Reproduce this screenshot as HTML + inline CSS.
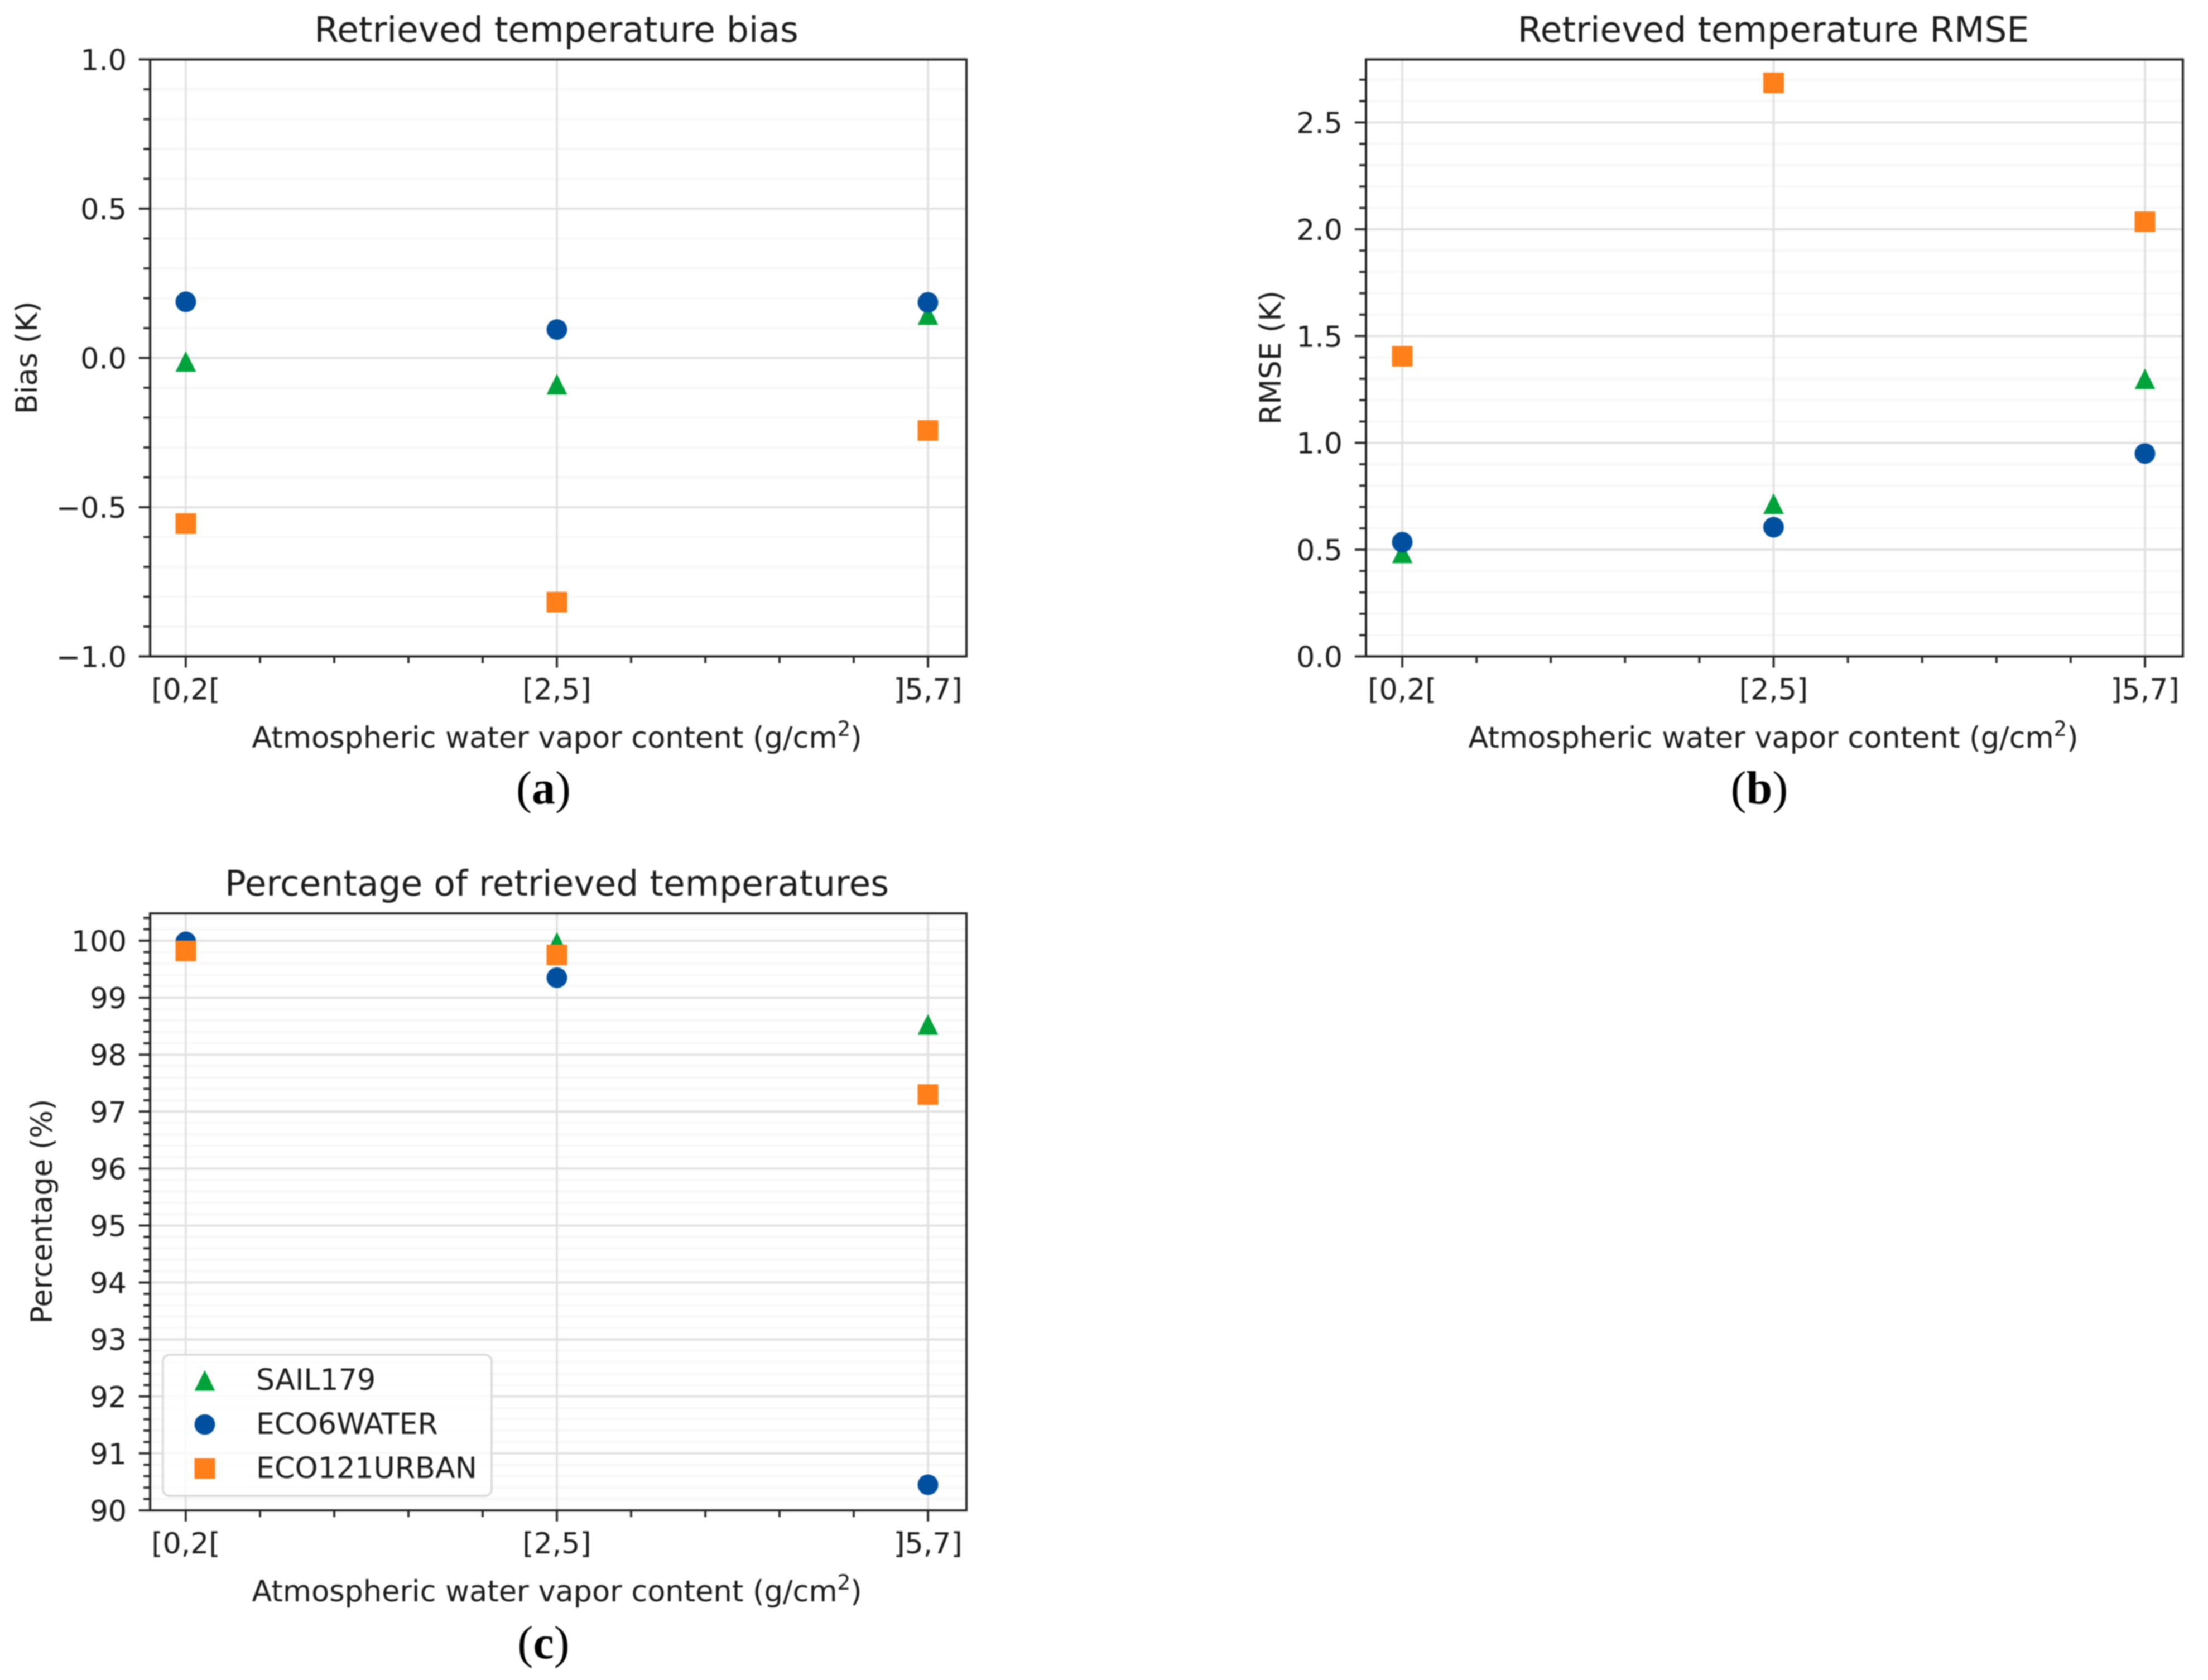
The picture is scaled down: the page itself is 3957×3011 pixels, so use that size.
<!DOCTYPE html>
<html lang="en">
<head>
<meta charset="utf-8">
<title>Retrieved temperature statistics</title>
<style>
html,body{margin:0;padding:0;background:#fff;}
svg{display:block;filter:blur(1px);}
text{font-family:"DejaVu Sans","Liberation Sans",sans-serif;fill:#1c1c1c;}
.title{font-size:63px;text-anchor:middle;}
.axis-label{font-size:52.5px;text-anchor:middle;}
.tick-label{font-size:52px;}
.legend-label{font-size:52.3px;}
.caption{font-family:"Liberation Serif",serif;font-size:84px;text-anchor:middle;fill:#000;}
.caption tspan{font-family:"Liberation Serif",serif;font-weight:bold;}
</style>
</head>
<body>
<svg id="figure" xmlns="http://www.w3.org/2000/svg" width="3957" height="3011" viewBox="0 0 3957 3011">
  <rect x="0" y="0" width="3957" height="3011" fill="#ffffff"/>

  <g id="panel-a">
    <text class="title" x="997" y="75">Retrieved temperature bias</text>
    <text class="axis-label" transform="translate(66 641) rotate(-90)">Bias (K)</text>
    <text class="axis-label" x="998" y="1340">Atmospheric water vapor content (g/cm<tspan dy="-21" font-size="37">2</tspan><tspan dy="21">)</tspan></text>
    <text class="caption" x="974" y="1440">(<tspan>a</tspan>)</text>
  </g>

  <g id="panel-b">
    <text class="title" x="3178" y="75">Retrieved temperature RMSE</text>
    <text class="axis-label" transform="translate(2295 641) rotate(-90)">RMSE (K)</text>
    <text class="axis-label" x="3178" y="1340">Atmospheric water vapor content (g/cm<tspan dy="-21" font-size="37">2</tspan><tspan dy="21">)</tspan></text>
    <text class="caption" x="3153" y="1440">(<tspan>b</tspan>)</text>
  </g>

  <g id="panel-c">
    <text class="title" x="998" y="1605">Percentage of retrieved temperatures</text>
    <text class="axis-label" transform="translate(93 2171) rotate(-90)">Percentage (%)</text>
    <text class="axis-label" x="998" y="2870">Atmospheric water vapor content (g/cm<tspan dy="-21" font-size="37">2</tspan><tspan dy="21">)</tspan></text>
    <text class="caption" x="974" y="2972">(<tspan>c</tspan>)</text>
  </g>
</svg>

<script>
// Shared categories and legend
const categories = ['[0,2[', '[2,5]', ']5,7]'];
const seriesNames = ['SAIL179', 'ECO6WATER', 'ECO121URBAN'];

// Panel (a): bias
const biasSail = [-0.012, -0.088, 0.145];
const biasEco6 = [0.188, 0.095, 0.186];
const biasUrban = [-0.555, -0.818, -0.243];
const biasTickValues = [-1, -0.5, 0, 0.5, 1];
const biasTickLabels = ['\u22121.0', '\u22120.5', '0.0', '0.5', '1.0'];

// Panel (b): RMSE
const rmseSail = [0.485, 0.715, 1.30];
const rmseEco6 = [0.535, 0.605, 0.95];
const rmseUrban = [1.405, 2.685, 2.035];
const rmseTickValues = [0, 0.5, 1, 1.5, 2, 2.5];
const rmseTickLabels = ['0.0', '0.5', '1.0', '1.5', '2.0', '2.5'];

// Panel (c): percentage
const pctSail = [99.97, 99.97, 98.53];
const pctEco6 = [99.98, 99.35, 90.45];
const pctUrban = [99.82, 99.75, 97.3];
const pctTickValues = [90, 91, 92, 93, 94, 95, 96, 97, 98, 99, 100];
const pctTickLabels = ['90', '91', '92', '93', '94', '95', '96', '97', '98', '99', '100'];

const NS = 'http://www.w3.org/2000/svg';
const GREEN = '#00a23a';
const BLUE = '#00509f';
const ORANGE = '#ff7f1a';
const seriesColors = [GREEN, BLUE, ORANGE];
const seriesShapes = ['triangle', 'circle', 'square'];

function el(tag, attrs, parent) {
  const node = document.createElementNS(NS, tag);
  for (const key in attrs) node.setAttribute(key, attrs[key]);
  parent.appendChild(node);
  return node;
}

function drawMarker(parent, shape, color, cx, cy) {
  const r = 18.5;
  if (shape === 'triangle') {
    return el('polygon', {points: (cx - r) + ',' + (cy + r) + ' ' + (cx + r) + ',' + (cy + r) + ' ' + cx + ',' + (cy - r), fill: color}, parent);
  }
  if (shape === 'circle') {
    return el('circle', {cx: cx, cy: cy, r: r, fill: color}, parent);
  }
  return el('rect', {x: cx - r, y: cy - r, width: 2 * r, height: 2 * r, fill: color}, parent);
}

function drawPanel(cfg) {
  const host = document.getElementById(cfg.hostId);
  const xScale = function (i) { return cfg.firstTick + i * cfg.tickGap; };
  const yScale = function (v) { return cfg.bottom - (v - cfg.yMin) / (cfg.yMax - cfg.yMin) * (cfg.bottom - cfg.top); };

  const grid = el('g', {}, host);
  
  

  const ticks = el('g', {stroke: '#2e2e2e', 'stroke-width': 4}, host);
  
  

  // y minor ticks and grid lines
  for (let k = 1; cfg.yMin + k * cfg.yMinorStep < cfg.yMax; k++) {
    if (k % 5 === 0) continue;
    const y = yScale(cfg.yMin + k * cfg.yMinorStep);
    const line = el('line', {x1: cfg.left, x2: cfg.right, y1: y, y2: y, stroke: '#f8f8f8', 'stroke-width': 4}, grid);
    
    
    const tick = el('line', {x1: cfg.left - 12, x2: cfg.left, y1: y, y2: y}, ticks);
    
    
  }

  // y major ticks, grid lines and labels
  cfg.yTickValues.forEach(function (value, i) {
    const y = yScale(value);
    const line = el('line', {x1: cfg.left, x2: cfg.right, y1: y, y2: y, stroke: '#e2e2e2', 'stroke-width': 4}, grid);
    
    
    const tick = el('line', {x1: cfg.left - 20, x2: cfg.left, y1: y, y2: y}, ticks);
    
    
    const label = el('text', {x: cfg.left - 42, y: y + 19, 'text-anchor': 'end', 'class': 'tick-label'}, host);
    label.textContent = cfg.yTickLabels[i];
    
    
  });

  // x minor ticks
  for (let k = 1; k < 10; k++) {
    if (k % 5 === 0) continue;
    const x = xScale(k * 0.2);
    const tick = el('line', {x1: x, x2: x, y1: cfg.bottom, y2: cfg.bottom + 12}, ticks);
    
    
  }

  // x categories
  categories.forEach(function (category, i) {
    const x = xScale(i);
    const line = el('line', {x1: x, x2: x, y1: cfg.top, y2: cfg.bottom, stroke: '#e2e2e2', 'stroke-width': 4}, grid);
    
    
    const tick = el('line', {x1: x, x2: x, y1: cfg.bottom, y2: cfg.bottom + 20}, ticks);
    
    
    const label = el('text', {x: x, y: cfg.bottom + 77, 'text-anchor': 'middle', 'class': 'tick-label'}, host);
    label.textContent = category;
    
    
  });

  // series, in draw order
  cfg.series.forEach(function (values, s) {
    const group = el('g', {}, host);
    
    
    values.forEach(function (value, i) {
      const mark = drawMarker(group, seriesShapes[s], seriesColors[s], xScale(i), yScale(value));
      
      
    });
  });

  const frame = el('rect', {x: cfg.left, y: cfg.top, width: cfg.right - cfg.left, height: cfg.bottom - cfg.top, fill: 'none', stroke: '#262626', 'stroke-width': 4}, host);
  
  
}

drawPanel({
  hostId: 'panel-a', prefix: 'bias',
  left: 269, right: 1732, top: 106.5, bottom: 1176.5, firstTick: 333, tickGap: 665,
  yMin: -1, yMax: 1, yMinorStep: 0.1,
  yTickValues: biasTickValues, yTickLabels: biasTickLabels,
  series: [biasSail, biasEco6, biasUrban]
});

drawPanel({
  hostId: 'panel-b', prefix: 'rmse',
  left: 2448, right: 3912, top: 106.5, bottom: 1176.5, firstTick: 2513, tickGap: 665.5,
  yMin: 0, yMax: 2.795, yMinorStep: 0.1,
  yTickValues: rmseTickValues, yTickLabels: rmseTickLabels,
  series: [rmseSail, rmseEco6, rmseUrban]
});

drawPanel({
  hostId: 'panel-c', prefix: 'percentage',
  left: 269, right: 1732, top: 1637, bottom: 2707, firstTick: 333, tickGap: 665,
  yMin: 90, yMax: 100.48, yMinorStep: 0.2,
  yTickValues: pctTickValues, yTickLabels: pctTickLabels,
  series: [pctSail, pctEco6, pctUrban]
});

// Legend (panel c)
const legendHost = document.getElementById('panel-c');
const legend = el('g', {}, legendHost);


const legendBox = el('rect', {x: 292, y: 2428, width: 589, height: 253, rx: 12, ry: 12, fill: 'rgba(255,255,255,0.8)', stroke: '#dcdcdc', 'stroke-width': 4}, legend);


seriesNames.forEach(function (name, s) {
  const rowY = 2474 + s * 79;
  const entry = el('g', {}, legend);
  
  
  const key = drawMarker(entry, seriesShapes[s], seriesColors[s], 367, rowY);
  
  
  const text = el('text', {x: 459, y: rowY + 17, 'class': 'legend-label'}, entry);
  text.textContent = name;
  
  
});
</script>
</body>
</html>
